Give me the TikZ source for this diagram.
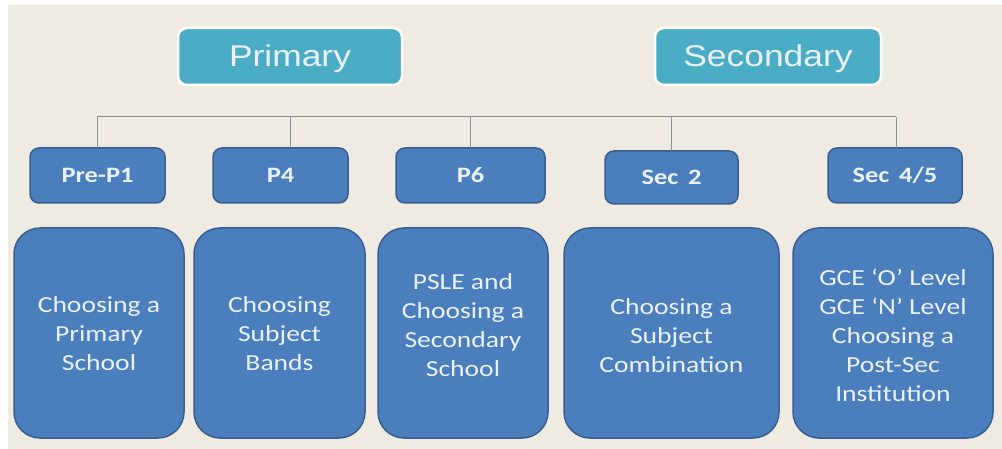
\documentclass[tikz,border=0pt]{standalone}
\usepackage{fontspec}
\setmainfont{Carlito}[FakeStretch=1.2]
\newfontfamily\headfont{Liberation Sans}[FakeStretch=1.18]
\definecolor{bgbeige}{HTML}{EFEBE3}
\definecolor{tealfill}{HTML}{4BACC6}
\definecolor{bluefill}{HTML}{4B7EBD}
\definecolor{blueedge}{HTML}{3A5F8E}
\definecolor{linegray}{HTML}{8A9096}
\definecolor{txtwhite}{HTML}{EAF1F8}
\begin{document}
\begin{tikzpicture}[x=1pt,y=-1pt,
  headbox/.style={draw=white,line width=2.5pt,fill=tealfill,rounded corners=9pt,
    text=txtwhite,font=\headfont\fontsize{30}{34}\selectfont},
  levelbox/.style={draw=blueedge,line width=1.5pt,fill=bluefill,rounded corners=9pt,
    text=txtwhite,font=\fontsize{22}{26}\selectfont\bfseries},
  bigbox/.style={draw=blueedge,line width=1.5pt,fill=bluefill,rounded corners=26pt,
    text=txtwhite,align=center,font=\fontsize{23}{29}\selectfont},
  conn/.style={draw=linegray,line width=1pt}]
\fill[white] (0,0) rectangle (1002,449);
\fill[bgbeige] (8,5) rectangle (1002,449);
\useasboundingbox (0,0) rectangle (1002,449);
% header boxes
\draw[headbox] (178,28) rectangle (402,85);
\node[text=txtwhite,font=\headfont\fontsize{30}{34}\selectfont] (prim) at (290,58.5) {Primary};
\draw[headbox] (655,28) rectangle (881,85);
\node[text=txtwhite,font=\headfont\fontsize{30}{34}\selectfont] (sec) at (768,58.5) {Secondary};
% connector coordinates
\coordinate (bl) at (97,117);
\coordinate (br) at (896,117);
\coordinate (t2) at (290,117);
\coordinate (t3) at (470,117);
\coordinate (t4) at (671,117);
% level boxes
\draw[levelbox] (30,148) rectangle (165,203);
\node[levelbox,draw=none,fill=none] (pre) at (97.5,175.5) {Pre-P1};
\draw[levelbox] (213,148) rectangle (348,203);
\node[levelbox,draw=none,fill=none] (p4) at (280.5,175.5) {P4};
\draw[levelbox] (396,148) rectangle (545,203);
\node[levelbox,draw=none,fill=none] (p6) at (470.5,175.5) {P6};
\draw[levelbox] (605,151) rectangle (738,204);
\node[levelbox,draw=none,fill=none] (s2) at (671.5,177.5) {Sec\, 2};
\draw[levelbox] (828,148) rectangle (962,203);
\node[levelbox,draw=none,fill=none] (s45) at (895,175.5) {Sec\, 4/5};
\coordinate (pretop) at (97,148);
\coordinate (p4top) at (290,148);
\coordinate (p6top) at (470,148);
\coordinate (s2top) at (671,151);
\coordinate (s45top) at (896,148);
\draw[conn] (bl) -- (br);
\draw[conn] (bl) -- (pretop);
\draw[conn] (t2) -- (p4top);
\draw[conn] (t3) -- (p6top);
\draw[conn] (t4) -- (s2top);
\draw[conn] (br) -- (s45top);
% big boxes
\draw[bigbox] (14,228) rectangle (184,438);
\node[bigbox,draw=none,fill=none] (b1) at (99,334) {Choosing a\\Primary\\School};
\draw[bigbox] (194,228) rectangle (365,438);
\node[bigbox,draw=none,fill=none] (b2) at (279.5,334) {Choosing\\Subject\\Bands};
\draw[bigbox] (378,228) rectangle (548,438);
\node[bigbox,draw=none,fill=none] (b3) at (463,325) {PSLE and\\Choosing a\\Secondary\\School};
\draw[bigbox] (564,228) rectangle (779,438);
\node[bigbox,draw=none,fill=none] (b4) at (671.5,336) {Choosing a\\Subject\\Combination};
\draw[bigbox] (793,228) rectangle (993,438);
\node[bigbox,draw=none,fill=none] (b5) at (893,335) {GCE ‘O’ Level\\GCE ‘N’ Level\\Choosing a\\Post-Sec\\Institution};
\end{tikzpicture}
\end{document}
